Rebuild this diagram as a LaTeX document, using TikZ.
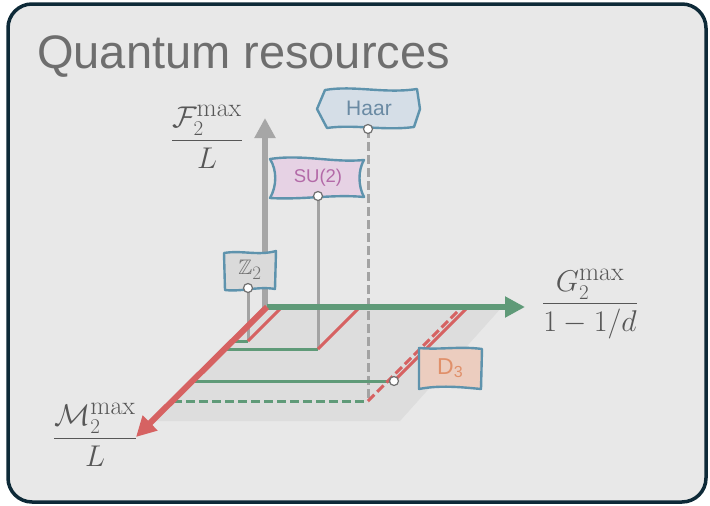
\RequirePackage{fix-cm}
\documentclass[tikz,border=0pt]{standalone}
\usepackage{amsmath,amssymb}
\usepackage{fontspec}
\setsansfont{Liberation Sans}
\usetikzlibrary{arrows.meta}

\definecolor{framenavy}{HTML}{0E2A38}
\definecolor{panel}{HTML}{E8E8E8}
\definecolor{floorgray}{HTML}{DDDDDD}
\definecolor{titlegray}{HTML}{6E6E6E}
\definecolor{mathgray}{HTML}{575757}
\definecolor{axisgray}{HTML}{A6A6A6}
\definecolor{linegray}{HTML}{A3A3A3}
\definecolor{pingray}{HTML}{707070}
\definecolor{resgreen}{HTML}{5F9A78}
\definecolor{resred}{HTML}{D66262}
\definecolor{tagblue}{HTML}{5E93AD}
\definecolor{haarfill}{HTML}{D5DEE7}
\definecolor{haartext}{HTML}{6A8AA3}
\definecolor{sufill}{HTML}{E6D2E4}
\definecolor{sutext}{HTML}{B36AA8}
\definecolor{zfill}{HTML}{DADADA}
\definecolor{ztext}{HTML}{707070}
\definecolor{dfill}{HTML}{ECCDBF}
\definecolor{dtext}{HTML}{E0906A}

\newcommand{\supsc}[1]{\mbox{\fontsize{26}{26}\selectfont #1}}
\newcommand{\subsc}[1]{\mbox{\fontsize{21}{21}\selectfont #1}}

\begin{document}
\begin{tikzpicture}[
  x=1pt, y=-1pt,
  >={Triangle[length=20pt,width=20pt]},
  axis/.style={line width=6pt},
  guide/.style={line width=3pt},
  dashguide/.style={line width=3pt, dash pattern=on 9pt off 4pt},
  tagline/.style={draw=tagblue, line width=2.4pt, line join=round},
  pin/.style={circle, draw=pingray, fill=white, line width=1.2pt, inner sep=0pt, minimum size=9pt},
  tag/.style={inner sep=0pt, font=\sffamily\fontsize{19}{20}\selectfont},
  ratio/.style={text=mathgray, inner sep=0pt, font=\fontsize{30}{34}\selectfont}
]
% panel
\fill[white] (0,0) rectangle (710,506);
\draw[draw=framenavy, fill=panel, line width=3.5pt, rounded corners=24pt] (8,4) rectangle (706,502);
\node[anchor=base west, inner sep=0pt, text=titlegray, font=\sffamily\fontsize{47}{50}\selectfont] (title) at (37,68) {Quantum resources};

% floor of the diagram
\coordinate (O) at (267,307);
\fill[floorgray] (O) -- (502,307) -- (400,421) -- (153,421) -- cycle;

% points of the groups
\coordinate (zp) at (248,288); \coordinate (zk) at (248,341);
\coordinate (zm) at (233,341); \coordinate (zg) at (282,307);
\coordinate (sp) at (318,196); \coordinate (sk) at (318,349);
\coordinate (sm) at (225,349); \coordinate (sg) at (360,307);
\coordinate (hp) at (368,129); \coordinate (hk) at (368,401);
\coordinate (hm) at (173,401); \coordinate (hg) at (462,307);
\coordinate (dp) at (394,381); \coordinate (dm) at (193,381);
\coordinate (dg) at (468,307);

\draw[guide, linegray] (zp) -- (zk);
\draw[guide, linegray] (sp) -- (sk);
\draw[dashguide, linegray] (hp) -- (hk);
\draw[guide, resgreen] (zm) -- (zk);
\draw[guide, resgreen] (sm) -- (sk);
\draw[guide, resgreen] (dm) -- (dp);
\draw[dashguide, resgreen] (hm) -- (hk);
\draw[guide, resred] (zk) -- (zg);
\draw[guide, resred] (sk) -- (sg);
\draw[guide, resred] (dp) -- (dg);
\draw[dashguide, resred] (hk) -- (hg);

% axes
\coordinate (fO) at (265,310);
\coordinate (ftip) at (265,118);
\coordinate (gtip) at (525,307);
\coordinate (mtip) at (136,437);
\draw[axis, axisgray, ->] (fO) -- (ftip);
\draw[axis, resgreen, ->] (O) -- (gtip);
\draw[axis, resred, ->] (O) -- (mtip);

\node[ratio] (flabel) at (207,137) {$\displaystyle\frac{\mathcal{F}_{\subsc{2}}^{\supsc{max}}}{L}$};
\node[ratio] (glabel) at (590,304) {$\displaystyle\frac{G_{\subsc{2}}^{\supsc{max}}}{1-1/d}$};
\node[ratio] (mlabel) at (95,435) {$\displaystyle\frac{\mathcal{M}_{\subsc{2}}^{\supsc{max}}}{L}$};

% tags
\coordinate (haarc) at (369,108);
\begin{scope}[shift={(haarc)}]
  \filldraw[tagline, fill=haarfill] (-44,-18) .. controls (-15,-23) and (15,-14) .. (48,-19)
    -- (51,1) -- (45,19) .. controls (15,23) and (-15,16) .. (-42,20) -- (-52,1) -- cycle;
\end{scope}
\node[tag, text=haartext, font=\sffamily\fontsize{21}{22}\selectfont] (haar) at (haarc) {Haar};

\coordinate (suc) at (318,178);
\begin{scope}[shift={(suc)}]
  \filldraw[tagline, fill=sufill] (-48,-19) .. controls (-15,-24) and (15,-15) .. (46,-18)
    .. controls (40,-8) and (40,8) .. (46,19) .. controls (15,16) and (-15,22) .. (-48,20)
    .. controls (-41,8) and (-41,-8) .. cycle;
\end{scope}
\node[tag, text=sutext, font=\sffamily\fontsize{18.5}{20}\selectfont] (su) at (suc) {SU(2)};

\coordinate (zc) at (250,270);
\begin{scope}[shift={(zc)}]
  \filldraw[tagline, fill=zfill] (-26,-17) .. controls (-8,-20) and (8,-14) .. (26,-19)
    -- (25,19) .. controls (8,16) and (-8,22) .. (-25,20) -- cycle;
\end{scope}
\node[tag, text=ztext, font=\fontsize{21}{22}\selectfont] (ztwo) at (zc) {$\mathbb{Z}_{\mbox{\fontsize{19}{19}\selectfont 2}}$};

\coordinate (dc) at (450,368);
\begin{scope}[shift={(dc)}]
  \filldraw[tagline, fill=dfill] (-31,-20) .. controls (-10,-18) and (10,-22) .. (32,-19)
    -- (31,21) .. controls (10,19) and (-10,17) .. (-31,21) -- cycle;
\end{scope}
\node[tag, text=dtext, font=\sffamily\fontsize{23}{24}\selectfont] (dthree) at (dc) {D\raisebox{-3pt}{\fontsize{16}{16}\selectfont 3}};

% pins
\node[pin] (zpin) at (zp) {};
\node[pin] (supin) at (sp) {};
\node[pin] (haarpin) at (hp) {};
\node[pin] (dpin) at (dp) {};
\end{tikzpicture}
\end{document}
